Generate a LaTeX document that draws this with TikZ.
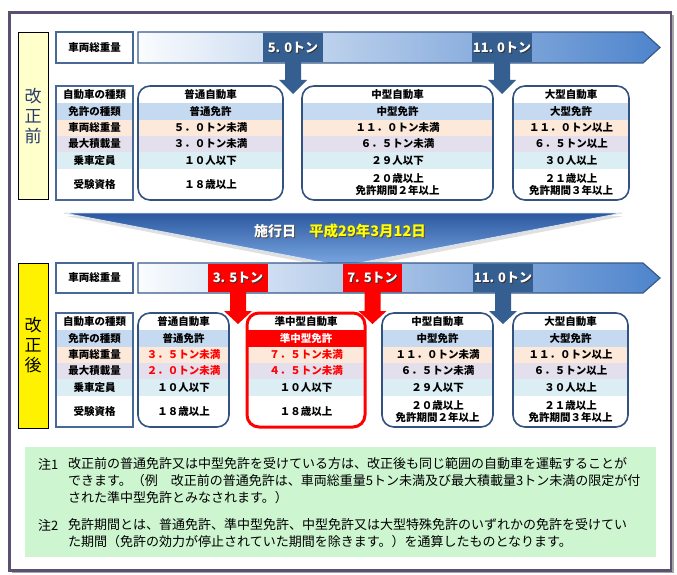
\documentclass[tikz,border=0pt]{standalone}
\usepackage{fontspec}
\setmainfont{Noto Sans CJK JP}
\definecolor{frameC}{RGB}{92,80,112}
\definecolor{colB}{RGB}{52,82,128}
\definecolor{labB}{RGB}{72,104,152}
\definecolor{rLicC}{RGB}{197,217,241}
\definecolor{rWtC}{RGB}{253,233,217}
\definecolor{rLdC}{RGB}{228,223,236}
\definecolor{rCapC}{RGB}{218,238,243}
\definecolor{blkC}{RGB}{54,95,145}
\definecolor{barL}{RGB}{250,252,254}
\definecolor{barR}{RGB}{78,132,204}
\definecolor{barB}{RGB}{56,90,138}
\definecolor{befY}{RGB}{255,255,204}
\definecolor{noteG}{RGB}{204,245,208}
\definecolor{chevT}{RGB}{44,88,160}
\definecolor{chevB}{RGB}{125,170,228}
\definecolor{dateY}{RGB}{255,255,0}
\definecolor{befT}{RGB}{40,58,110}
\definecolor{redC}{RGB}{255,0,0}
\tikzset{
  hd/.style={font=\bfseries\fontsize{10.5}{12}\selectfont, inner sep=0pt},
  cl/.style={font=\bfseries\fontsize{10.5}{12}\selectfont, inner sep=0pt, align=center},
  blab/.style={font=\bfseries\fontsize{13}{13}\selectfont, inner sep=0pt, text=white},
  bsh/.style={font=\bfseries\fontsize{13}{13}\selectfont, inner sep=0pt, text=black!80},
  nt/.style={font=\fontsize{13}{13}\selectfont, inner sep=0pt, anchor=west},
  vlab/.style={font=\fontsize{17}{20}\selectfont, align=center, inner sep=0pt},
  colbox/.style={draw=colB, line width=1.6pt, rounded corners=12pt},
  labbox/.style={draw=labB, line width=1.5pt},
  bar/.style={left color=barL, right color=barR, draw=barB, line width=1.2pt},
}
\newcommand\rowbands[3]{%
  \fill[rLicC] (#1,#3+17) rectangle (#2,#3+34);
  \fill[rWtC] (#1,#3+34) rectangle (#2,#3+50);
  \fill[rLdC] (#1,#3+50) rectangle (#2,#3+66);
  \fill[rCapC] (#1,#3+66) rectangle (#2,#3+83);
}
\newcommand\cellcol[9]{%
  \node[hd] (#3a) at (#1,#2+9) {#4};
  \node[cl] (#3b) at (#1,#2+25.5) {#5};
  \node[cl] (#3c) at (#1,#2+42) {#6};
  \node[cl] (#3d) at (#1,#2+58) {#7};
  \node[cl] (#3e) at (#1,#2+74.5) {#8};
  \node[cl] (#3f) at (#1,#2+98.5) {#9};
}
\newcommand\dnarrowshape[5]{% color, cx, y0, yhead, ytip
  \fill[#1] (#2-8,#3) -- (#2+8,#3) -- (#2+8,#4) -- (#2+14,#4) -- (#2,#5) -- (#2-14,#4) -- (#2-8,#4) -- cycle;
}
\begin{document}
\begin{tikzpicture}[x=1pt,y=-1pt]
\useasboundingbox (0,0) rectangle (677,575);
\fill[white] (0,0) rectangle (677,575);
% outer frame
\fill[black!35] (12,15) rectangle (674,573);
\fill[white] (9.5,12.5) rectangle (671,570.5);
\draw[frameC, line width=2.6pt] (9.5,12.5) rectangle (671,570.5);

% ===== BEFORE =====
\node[draw=black, fill=befY, line width=0.8pt, minimum width=30pt, minimum height=167pt, inner sep=0pt] (befbox) at (33,115.5) {};
\node[vlab, text=befT] (beftxt) at (33,116) {改\\正\\前};
\node[labbox, fill=white, minimum width=77pt, minimum height=31pt, inner sep=0pt, font=\bfseries\fontsize{10.5}{12}\selectfont] (bwt) at (94.5,47.5) {車両総重量};
\shadedraw[bar] (138,32) -- (643,32) -- (660,47.5) -- (643,63) -- (138,63) -- cycle;
\fill[blkC] (263,32.6) rectangle (323,62.4);
\fill[blkC] (472,32.6) rectangle (532,62.4);
\node[bsh] (b50s) at (294,48.5) {5. 0トン};
\node[blab] (b50) at (293,47.5) {5. 0トン};
\node[bsh] (b110s) at (503,48.5) {11. 0トン};
\node[blab] (b110) at (502,47.5) {11. 0トン};
\dnarrowshape{blkC}{293}{62}{80}{94}
\dnarrowshape{blkC}{502}{62}{80}{94}

% left label column (before)
\fill[white] (56,86) rectangle (133,200);
\rowbands{56}{133}{86}
\draw[labbox] (56,86) rectangle (133,200);
\cellcol{94.5}{86}{bl}{自動車の種類}{免許の種類}{車両総重量}{最大積載量}{乗車定員}{受験資格}

% 普通 before
\begin{scope}
\clip[rounded corners=12pt] (138,86) rectangle (283,200);
\fill[white] (138,86) rectangle (283,200);
\rowbands{138}{283}{86}
\end{scope}
\draw[colbox] (138,86) rectangle (283,200);
\cellcol{210.5}{86}{bf}{普通自動車}{普通免許}{５．０トン未満}{３．０トン未満}{１０人以下}{１８歳以上}

% 中型 before
\begin{scope}
\clip[rounded corners=12pt] (302,86) rectangle (493,200);
\fill[white] (302,86) rectangle (493,200);
\rowbands{302}{493}{86}
\end{scope}
\draw[colbox] (302,86) rectangle (493,200);
\cellcol{397.5}{86}{bm}{中型自動車}{中型免許}{１１．０トン未満}{６．５トン未満}{２９人以下}{２０歳以上\\免許期間２年以上}

% 大型 before
\begin{scope}
\clip[rounded corners=12pt] (513,86) rectangle (629,200);
\fill[white] (513,86) rectangle (629,200);
\rowbands{513}{629}{86}
\end{scope}
\draw[colbox] (513,86) rectangle (629,200);
\cellcol{571}{86}{bg}{大型自動車}{大型免許}{１１．０トン以上}{６．５トン以上}{３０人以上}{２１歳以上\\免許期間３年以上}

% ===== CHEVRON =====
\fill[black!12] (66,216) -- (624,216) -- (345,270) -- cycle;
\shade[top color=chevT, bottom color=chevB] (64,213) -- (622,213) -- (343,266) -- cycle;
\draw[white!70!chevB, line width=0.8pt] (64,213) -- (622,213) -- (343,266) -- cycle;
\node[font=\bfseries\fontsize{14}{14}\selectfont, inner sep=0pt, text=black!70] (sks) at (276,232) {施行日};
\node[font=\bfseries\fontsize{14}{14}\selectfont, inner sep=0pt, text=white] (sk) at (275,231) {施行日};
\node[font=\bfseries\fontsize{14.5}{14}\selectfont, inner sep=0pt, text=black!70, anchor=west] (dts) at (310,232) {平成29年3月12日};
\node[font=\bfseries\fontsize{14.5}{14}\selectfont, inner sep=0pt, text=dateY, anchor=west] (dt) at (309,231) {平成29年3月12日};

% ===== AFTER =====
\node[draw=black, fill=yellow, line width=0.8pt, minimum width=30pt, minimum height=165pt, inner sep=0pt] (aftbox) at (33,345.5) {};
\node[vlab, text=black] (afttxt) at (33,345) {改\\正\\後};
\node[labbox, fill=white, minimum width=77pt, minimum height=30pt, inner sep=0pt, font=\bfseries\fontsize{10.5}{12}\selectfont] (awt) at (94.5,278) {車両総重量};
\shadedraw[bar] (138,263) -- (643,263) -- (660,278) -- (643,293) -- (138,293) -- cycle;
\fill[redC] (208,263.6) rectangle (268,292.4);
\fill[redC] (343,263.6) rectangle (402,292.4);
\fill[blkC] (473,263.6) rectangle (533,292.4);
\node[bsh] (a35s) at (239,279) {3. 5トン};
\node[blab] (a35) at (238,278) {3. 5トン};
\node[bsh] (a75s) at (373.5,279) {7. 5トン};
\node[blab] (a75) at (372.5,278) {7. 5トン};
\node[bsh] (a110s) at (504,279) {11. 0トン};
\node[blab] (a110) at (503,278) {11. 0トン};
\dnarrowshape{redC}{238}{292}{311}{324}
\dnarrowshape{redC}{372.5}{292}{311}{324}
\dnarrowshape{blkC}{503}{292}{311}{324}

% left label column (after)
\fill[white] (56,313) rectangle (133,427);
\rowbands{56}{133}{313}
\draw[labbox] (56,313) rectangle (133,427);
\cellcol{94.5}{313}{al}{自動車の種類}{免許の種類}{車両総重量}{最大積載量}{乗車定員}{受験資格}

% 普通 after
\begin{scope}
\clip[rounded corners=12pt] (138,313) rectangle (229,427);
\fill[white] (138,313) rectangle (229,427);
\rowbands{138}{229}{313}
\end{scope}
\draw[colbox] (138,313) rectangle (229,427);
\cellcol{183.5}{313}{af}{普通自動車}{普通免許}{\textcolor{redC}{３．５トン未満}}{\textcolor{redC}{２．０トン未満}}{１０人以下}{１８歳以上}

% 準中型 after
\begin{scope}
\clip[rounded corners=12pt] (247,313) rectangle (365,427);
\fill[white] (247,313) rectangle (365,427);
\rowbands{247}{365}{313}
\fill[redC] (247,330) rectangle (365,347);
\end{scope}
\draw[draw=redC, line width=3pt, rounded corners=12pt] (247,313) rectangle (365,427);
\cellcol{306}{313}{aj}{準中型自動車}{\textcolor{white}{準中型免許}}{\textcolor{redC}{７．５トン未満}}{\textcolor{redC}{４．５トン未満}}{１０人以下}{１８歳以上}

% 中型 after
\begin{scope}
\clip[rounded corners=12pt] (382,313) rectangle (493,427);
\fill[white] (382,313) rectangle (493,427);
\rowbands{382}{493}{313}
\end{scope}
\draw[colbox] (382,313) rectangle (493,427);
\cellcol{437.5}{313}{am}{中型自動車}{中型免許}{１１．０トン未満}{６．５トン未満}{２９人以下}{２０歳以上\\免許期間２年以上}

% 大型 after
\begin{scope}
\clip[rounded corners=12pt] (513,313) rectangle (628,427);
\fill[white] (513,313) rectangle (628,427);
\rowbands{513}{628}{313}
\end{scope}
\draw[colbox] (513,313) rectangle (628,427);
\cellcol{570.5}{313}{ag}{大型自動車}{大型免許}{１１．０トン以上}{６．５トン以上}{３０人以上}{２１歳以上\\免許期間３年以上}

% ===== NOTES =====
\fill[noteG] (25,447) rectangle (656,557);
\node[nt] (n1a) at (38,464) {注1};
\node[nt] (n1b) at (68,464) {改正前の普通免許又は中型免許を受けている方は、改正後も同じ範囲の自動車を運転することが};
\node[nt] (n1c) at (68,481) {できます。（例　改正前の普通免許は、車両総重量5トン未満及び最大積載量3トン未満の限定が付};
\node[nt] (n1d) at (68,498) {された準中型免許とみなされます。）};
\node[nt] (n2a) at (38,525) {注2};
\node[nt] (n2b) at (68,525) {免許期間とは、普通免許、準中型免許、中型免許又は大型特殊免許のいずれかの免許を受けてい};
\node[nt] (n2c) at (68,542) {た期間（免許の効力が停止されていた期間を除きます。）を通算したものとなります。};
\end{tikzpicture}
\end{document}
